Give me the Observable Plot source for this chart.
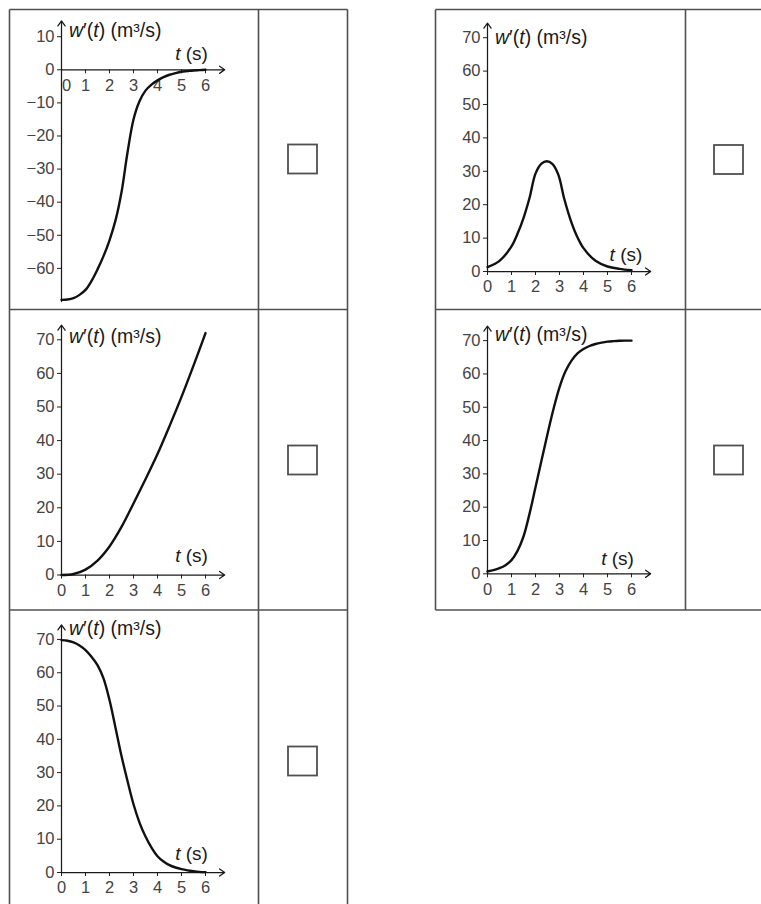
<!DOCTYPE html>
<html>
<head>
<meta charset="utf-8">
<script src="https://cdn.jsdelivr.net/npm/d3@7"></script>
<script src="https://cdn.jsdelivr.net/npm/@observablehq/plot@0.6"></script>
<style>
  html, body { margin: 0; padding: 0; background: #fff; }
  #page { position: relative; width: 761px; height: 904px; overflow: hidden; background: #fff;
          font-family: "Liberation Sans", Arial, Helvetica, sans-serif; }
  #page svg.panel { position: absolute; }
  #grid { position: absolute; left: 0; top: 0; }
</style>
</head>
<body>
<div id="page"></div>
<script>
// ---- tick labels and axis titles ----
const xTicks = [0, 1, 2, 3, 4, 5, 6];
const yTicksNeg = [-60, -50, -40, -30, -20, -10, 0, 10];
const yTicksPos = [0, 10, 20, 30, 40, 50, 60, 70];
const yLabel = "w′(t) (m³/s)";
const xLabel = "t (s)";

// ---- series ----
// A: top-left (rises from −70 to 0)
const tA = [0, 0.25, 0.5, 0.75, 1, 1.25, 1.5, 1.75, 2, 2.25, 2.5, 2.75, 3, 3.25, 3.5, 3.75, 4, 4.25, 4.5, 4.75, 5, 5.25, 5.5, 5.75, 6];
const wA = [-69.5, -69.4, -69, -68, -66.5, -63.8, -60.3, -56.3, -51.5, -45.5, -37, -25, -15, -9.5, -6.3, -4.5, -3.2, -2.2, -1.5, -1, -0.6, -0.4, -0.2, -0.1, 0];
// B: top-right (bell)
const tB = [0, 0.5, 1, 1.25, 1.5, 1.75, 2, 2.25, 2.47, 2.7, 2.95, 3.2, 3.45, 3.7, 4, 4.5, 5, 5.5, 6];
const wB = [1.3, 3.2, 7.5, 11.3, 16, 22, 29.3, 32.3, 33, 32.2, 29, 21.7, 15.7, 11, 7, 3.2, 1.5, 0.8, 0.4];
// C: middle-left (accelerating)
const tC = [0, 0.5, 1, 1.5, 2, 2.5, 3, 3.5, 4, 4.5, 5, 5.5, 6];
const wC = [0, 0.3, 1.6, 4.3, 8.5, 14.3, 21.3, 28.5, 36, 44.3, 53, 62.3, 72];
// D: middle-right (S-curve up to 70)
const tD = [0, 0.25, 0.5, 0.75, 1, 1.25, 1.5, 1.75, 2, 2.25, 2.5, 2.75, 3, 3.25, 3.5, 3.75, 4, 4.25, 4.5, 4.75, 5, 5.25, 5.5, 5.75, 6];
const wD = [0.7, 1.1, 1.7, 2.6, 4.1, 6.9, 11.2, 18, 26, 34, 42, 49.5, 56, 60.8, 64, 66.2, 67.5, 68.4, 69, 69.4, 69.7, 69.85, 69.95, 70, 70];
// E: bottom-left (S-curve down from 70)
const tE = [0, 0.25, 0.5, 0.75, 1, 1.25, 1.5, 1.75, 2, 2.25, 2.5, 2.75, 3, 3.25, 3.5, 3.75, 4, 4.25, 4.5, 4.75, 5, 5.25, 5.5, 5.75, 6];
const wE = [69.8, 69.6, 69.1, 68.2, 66.8, 64.8, 62.3, 58.3, 51.8, 43.5, 35, 27.5, 20.5, 15, 10.8, 7.5, 4.9, 3.3, 2.2, 1.5, 1, 0.65, 0.4, 0.2, 0.1];

// ---- layout (not data) ----
const panels = [
  {t: tA, w: wA, yTicks: yTicksNeg, left: 10,  top: 10,  yDomain: [-70, 14.8], mt: 10.3, mb: 9,    topTick: 10, labDy: -6,  xlabX: 6.1,  xlabDy: -16,  zeroDx: 5},
  {t: tB, w: wB, yTicks: yTicksPos, left: 436, top: 10,  yDomain: [0, 74.4],   mt: 12.5, mb: 39,   topTick: 70, labDy: 0,   xlabX: 6.45, xlabDy: -17,  zeroDx: 0},
  {t: tC, w: wC, yTicks: yTicksPos, left: 10,  top: 310, yDomain: [0, 74.4],   mt: 14.5, mb: 35.5, topTick: 70, labDy: -3,  xlabX: 6.1,  xlabDy: -19.5, zeroDx: 0},
  {t: tD, w: wD, yTicks: yTicksPos, left: 436, top: 310, yDomain: [0, 74.4],   mt: 15.5, mb: 36.7, topTick: 70, labDy: -6,  xlabX: 6.1,  xlabDy: -15,  zeroDx: 0},
  {t: tE, w: wE, yTicks: yTicksPos, left: 10,  top: 610, yDomain: [0, 74.4],   mt: 14.3, mb: 38,   topTick: 70, labDy: -11, xlabX: 6.1,  xlabDy: -18.5, zeroDx: 0}
];

const page = document.getElementById("page");
const FONT = '"Liberation Sans", Arial, Helvetica, sans-serif';
const fmt = d => d < 0 ? "−" + Math.abs(d) : String(d);

// table grid + check boxes (decoration)
const grid = d3.create("svg").attr("id", "grid").attr("width", 761).attr("height", 904);
const gl = [
  [9.5, 9.5, 9.5, 910], [258.5, 9.5, 258.5, 910], [347.5, 9.5, 347.5, 910],
  [9.5, 9.5, 347.5, 9.5], [9.5, 309.5, 347.5, 309.5], [9.5, 610, 347.5, 610],
  [435.5, 9.5, 435.5, 610], [685.5, 9.5, 685.5, 610], [772, 9.5, 772, 610],
  [435.5, 9.5, 780, 9.5], [435.5, 309.5, 780, 309.5], [435.5, 610, 780, 610]
];
grid.selectAll("line").data(gl).join("line")
  .attr("x1", d => d[0]).attr("y1", d => d[1]).attr("x2", d => d[2]).attr("y2", d => d[3])
  .attr("stroke", "#505050").attr("stroke-width", 1.6);
const boxes = [[302.5, 159], [728.5, 159.5], [302.5, 460], [728.5, 460], [302.5, 761]];
grid.selectAll("rect").data(boxes).join("rect")
  .attr("x", d => d[0] - 14.5).attr("y", d => d[1] - 14.5).attr("width", 29).attr("height", 29)
  .attr("fill", "none").attr("stroke", "#505050").attr("stroke-width", 1.8);
page.appendChild(grid.node());

function styleText(svg) {
  svg.querySelectorAll("text").forEach(el => {
    let parts = null;
    if (el.textContent === yLabel) parts = [["w", true], ["′(", false], ["t", true], [") (m³/s)", false]];
    else if (el.textContent === xLabel) parts = [["t", true], [" (s)", false]];
    if (!parts) return;
    el.textContent = "";
    for (const [s, it] of parts) {
      const ts = document.createElementNS("http://www.w3.org/2000/svg", "tspan");
      ts.textContent = s;
      if (it) ts.setAttribute("font-style", "italic");
      el.appendChild(ts);
    }
  });
}

for (const p of panels) {
  const data = p.t.map((t, i) => ({t, w: p.w[i]}));
  const yMin = p.yDomain[0], yTip = p.yDomain[1];
  const svg = Plot.plot({
    width: 249, height: 300,
    marginLeft: 51, marginRight: 34.8, marginTop: p.mt, marginBottom: p.mb,
    x: {domain: [0, 6.8], axis: null},
    y: {domain: p.yDomain, axis: null},
    style: {background: "transparent", overflow: "visible", fontFamily: FONT},
    marks: [
      // axis tick marks
      Plot.ruleX(xTicks, {x: d => d, y1: 0, y2: 0, insetBottom: -4, stroke: "#222", strokeWidth: 1}),
      Plot.ruleY(p.yTicks, {y: d => d, x1: 0, x2: 0, insetLeft: -4, stroke: "#222", strokeWidth: 1}),
      // axes with arrow heads
      Plot.arrow([0], {x1: 0, y1: yMin, x2: 0, y2: yTip, stroke: "#1a1a1a", strokeWidth: 1.25, headLength: 7.5, headAngle: 70}),
      Plot.arrow([0], {x1: 0, y1: 0, x2: 6.8, y2: 0, stroke: "#1a1a1a", strokeWidth: 1.25, headLength: 7.5, headAngle: 70}),
      // tick labels
      Plot.text(p.yTicks, {x: 0, y: d => d, text: fmt, dx: -7, textAnchor: "end", fontSize: 16.5, fill: "#444"}),
      Plot.text(xTicks.filter(d => d === 0), {x: d => d, y: 0, text: fmt, dx: p.zeroDx, dy: 15.6, fontSize: 16.5, fill: "#444"}),
      Plot.text(xTicks.filter(d => d !== 0), {x: d => d, y: 0, text: fmt, dy: 15.6, fontSize: 16.5, fill: "#444"}),
      // curve
      Plot.line(data, {x: "t", y: "w", curve: "catmull-rom", stroke: "#111", strokeWidth: 2.4}),
      // axis titles
      Plot.text([yLabel], {x: 0, y: p.topTick, text: d => d, dx: 7.5, dy: p.labDy, textAnchor: "start", fontSize: 19.5, fill: "#1a1a1a"}),
      Plot.text([xLabel], {x: p.xlabX, y: 0, text: d => d, dy: p.xlabDy, textAnchor: "end", fontSize: 19, fill: "#1a1a1a"})
    ]
  });
  svg.classList.add("panel");
  svg.style.left = p.left + "px";
  svg.style.top = p.top + "px";
  styleText(svg);
  page.appendChild(svg);
}
</script>
</body>
</html>
